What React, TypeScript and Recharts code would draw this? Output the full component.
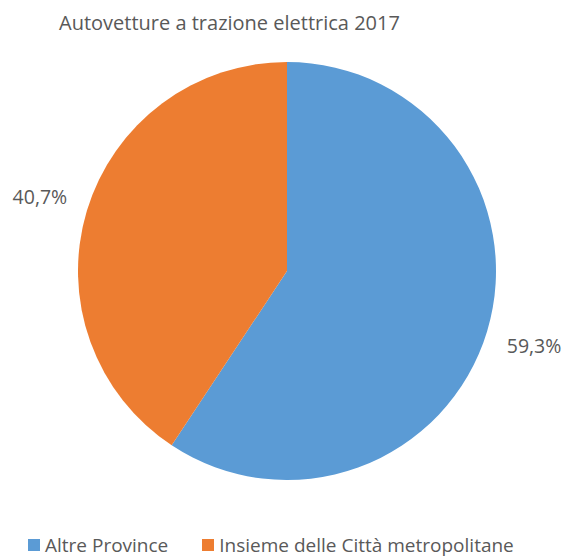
import React from "react";
import { PieChart, Pie, Cell, Legend } from "recharts";

const categories = ["Altre Province", "Insieme delle Città metropolitane"];
const shares = [59.3, 40.7];
const colors = ["#5B9BD5", "#ED7D31"];

const data = categories.map((name, i) => ({ name, value: shares[i] }));

const FONT = "'Open Sans', sans-serif";
const RADIAN = Math.PI / 180;

function renderLabel(props: any) {
  const { cx, cy, midAngle, outerRadius, value } = props;
  const r = outerRadius + 49;
  const x = cx + r * Math.cos(-midAngle * RADIAN);
  const y = cy + r * Math.sin(-midAngle * RADIAN);
  return (
    <text x={x} y={y} fill="#595959" fontSize={19.5} fontFamily={FONT} textAnchor="middle" dominantBaseline="central">
      {value.toFixed(1).replace(".", ",")}%
    </text>
  );
}

function LegendContent({ payload }: any) {
  return (
    <div style={{ display: "flex", justifyContent: "flex-start", paddingLeft: 28, gap: 34, fontFamily: FONT, fontSize: 19, lineHeight: "24px", color: "#595959" }}>
      {payload.map((p: any) => (
        <div key={p.value} style={{ display: "flex", alignItems: "center", gap: 5 }}>
          <span style={{ width: 12, height: 12, background: p.color, display: "inline-block" }} />
          <span>{p.value}</span>
        </div>
      ))}
    </div>
  );
}

export default function App() {
  return (
    <div style={{ position: "absolute", left: 0, top: 0, width: 563, height: 558, background: "#fff" }}>
      <div style={{ position: "absolute", left: 59, top: 9, fontFamily: FONT, fontSize: 20, color: "#595959", whiteSpace: "nowrap" }}>
        Autovetture a trazione elettrica 2017
      </div>
      <PieChart width={563} height={558} margin={{ top: 0, right: 0, bottom: 0, left: 0 }}>
        <Pie
          data={data}
          dataKey="value"
          nameKey="name"
          cx={287}
          cy={271}
          outerRadius={209}
          startAngle={90}
          endAngle={-270}
          stroke="none"
          label={renderLabel}
          labelLine={false}
          isAnimationActive={false}
        >
          {data.map((d, i) => (
            <Cell key={d.name} fill={colors[i]} />
          ))}
        </Pie>
        <Legend verticalAlign="bottom" content={<LegendContent />} wrapperStyle={{ left: 0, width: 563, bottom: 1 }} />
      </PieChart>
    </div>
  );
}
